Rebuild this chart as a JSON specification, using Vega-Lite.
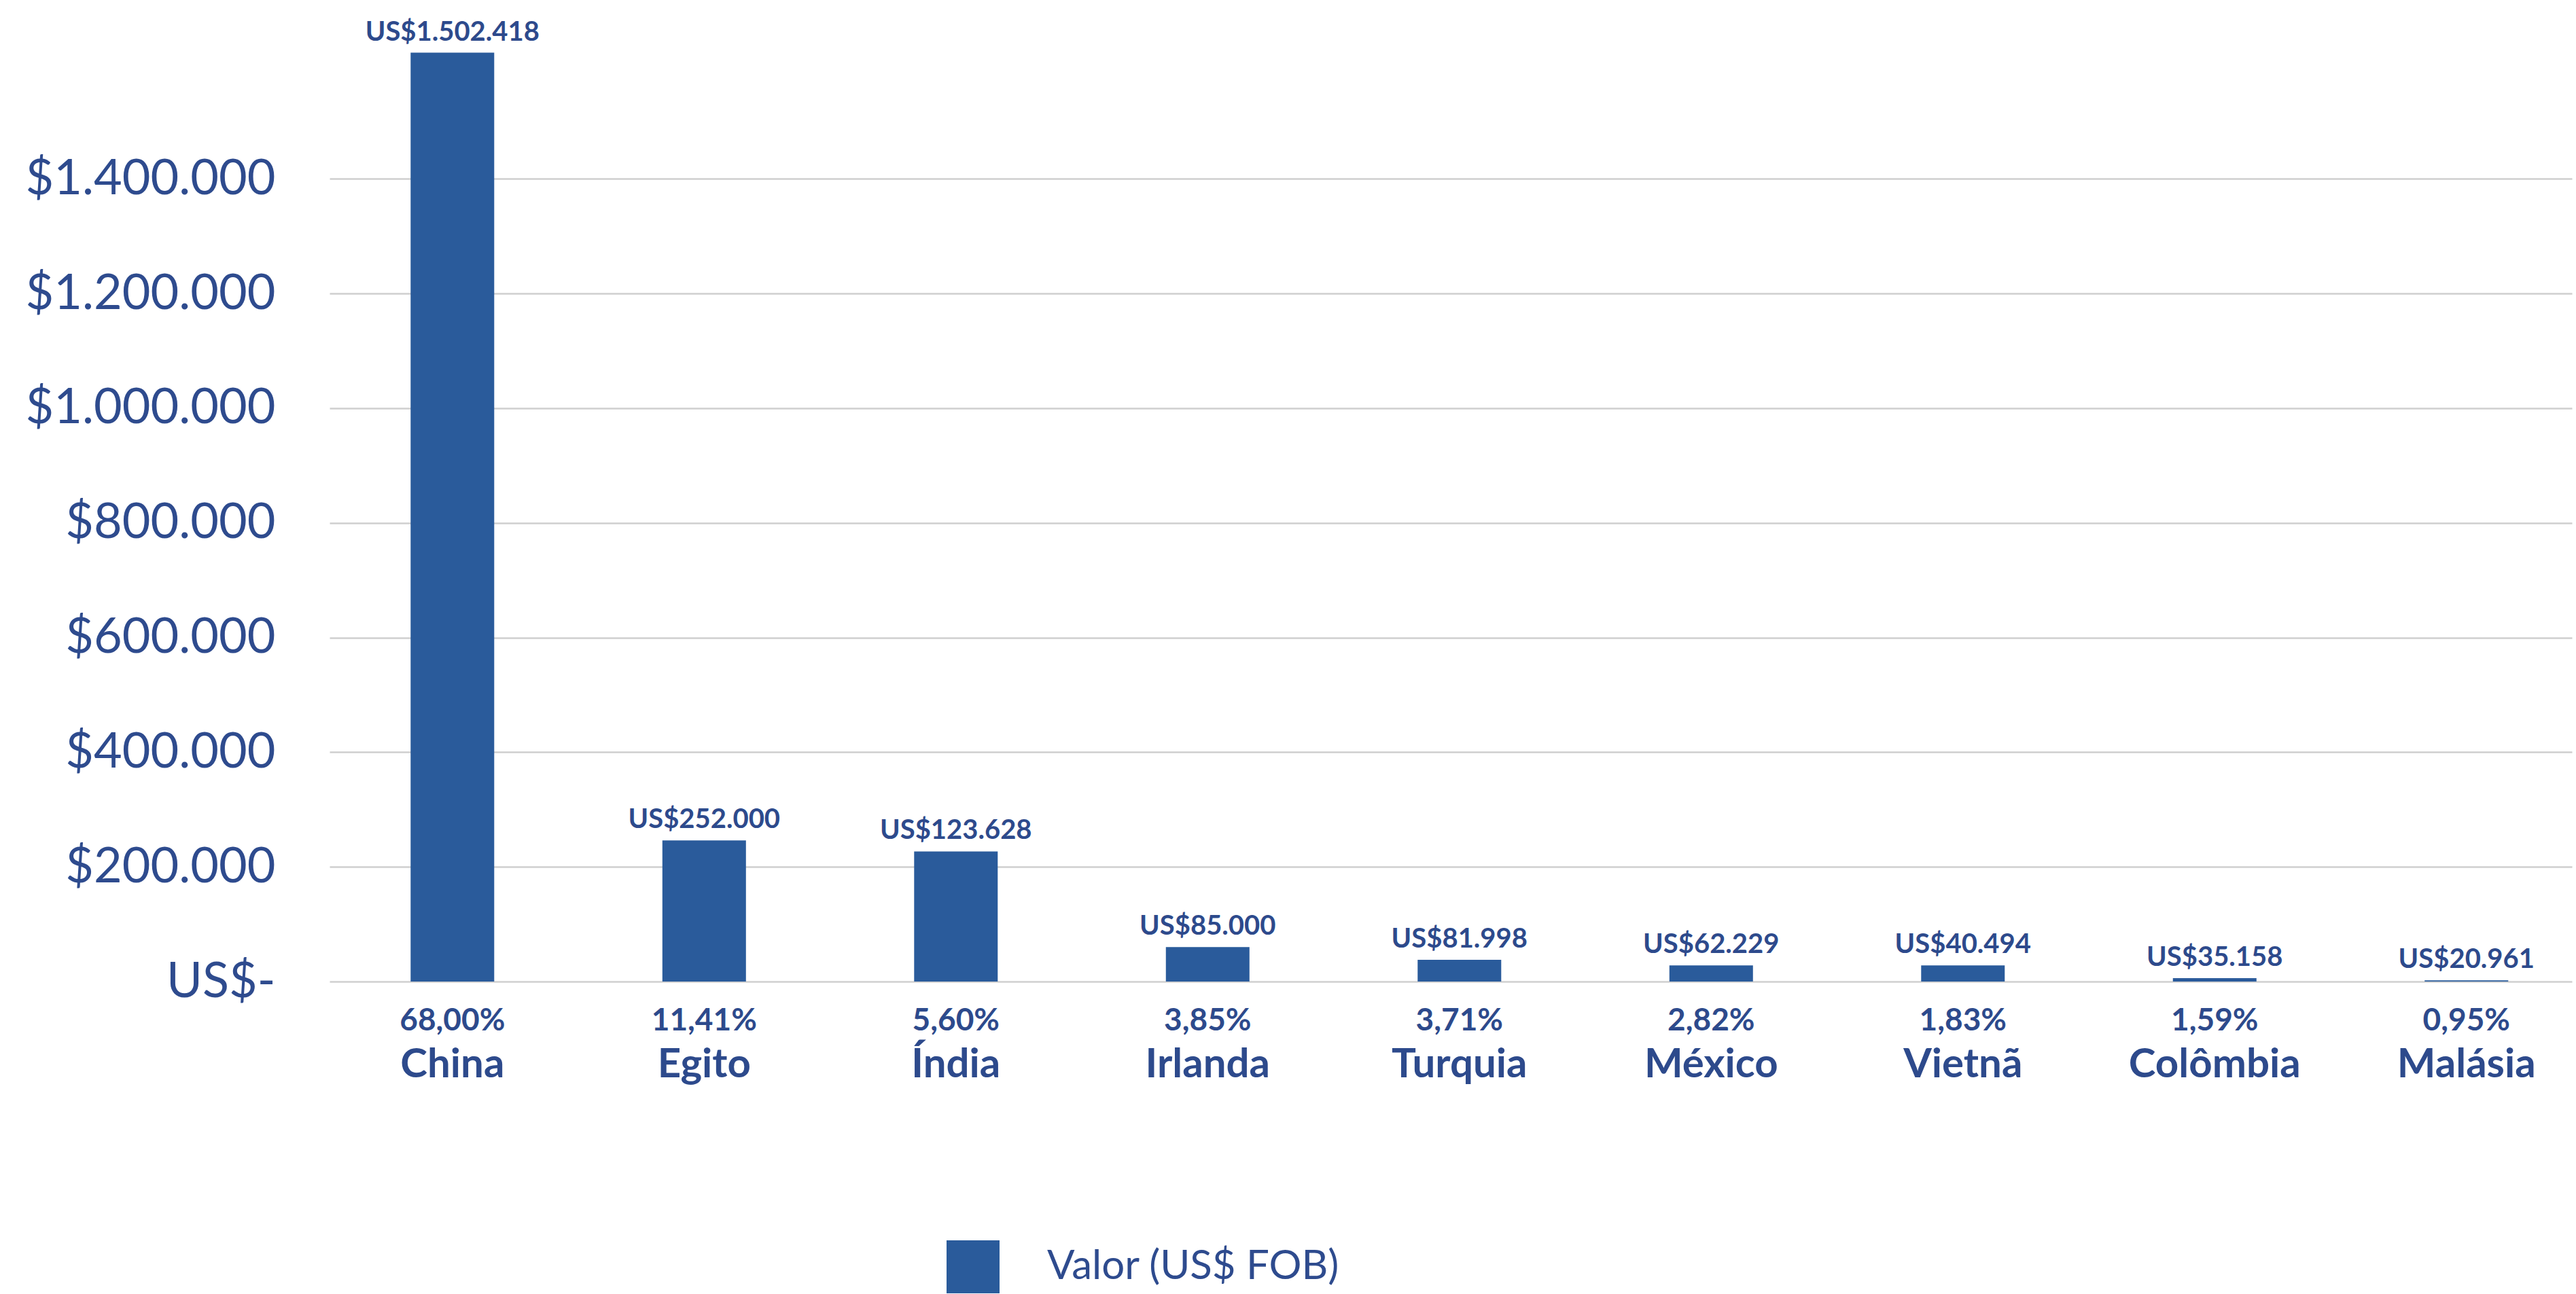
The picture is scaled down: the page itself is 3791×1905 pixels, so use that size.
{
  "$schema": "https://vega.github.io/schema/vega-lite/v6.json",
  "width": 3300,
  "height": 1435,
  "autosize": {"type": "none"},
  "padding": {"left": 485, "top": 10, "right": 6, "bottom": 460},
  "background": "white",
  "config": {
    "locale": {
      "number": {"decimal": ",", "thousands": ".", "grouping": [3], "currency": ["US$", ""]}
    },
    "view": {"stroke": null},
    "font": "Lato"
  },
  "data": {
    "values": [
      {"pais": "China", "altura": 1620000, "valor": 1502418, "pct": 0.68},
      {"pais": "Egito", "altura": 246000, "valor": 252000, "pct": 0.1141},
      {"pais": "Índia", "altura": 227000, "valor": 123628, "pct": 0.056},
      {"pais": "Irlanda", "altura": 60000, "valor": 85000, "pct": 0.0385},
      {"pais": "Turquia", "altura": 38000, "valor": 81998, "pct": 0.0371},
      {"pais": "México", "altura": 28000, "valor": 62229, "pct": 0.0282},
      {"pais": "Vietnã", "altura": 28000, "valor": 40494, "pct": 0.0183},
      {"pais": "Colômbia", "altura": 6000, "valor": 35158, "pct": 0.0159},
      {"pais": "Malásia", "altura": 2000, "valor": 20961, "pct": 0.0095}
    ]
  },
  "encoding": {
    "x": {
      "field": "pais",
      "type": "nominal",
      "sort": null,
      "scale": {"paddingInner": 0.668, "paddingOuter": 0.2875, "align": 0.56},
      "axis": {
        "title": null,
        "domain": false,
        "ticks": false,
        "tickSize": 0,
        "labelAngle": 0,
        "labelPadding": 93,
        "labelFont": "Lato",
        "labelFontSize": 60,
        "labelFontWeight": "bold",
        "labelColor": "#2D4A8C",
        "labelLimit": 1000,
        "labelOverlap": false,
        "grid": false
      }
    }
  },
  "layer": [
    {
      "mark": {"type": "bar", "color": "#2A5B9B"},
      "encoding": {
        "y": {
          "field": "altura",
          "type": "quantitative",
          "scale": {"domain": [0, 1700000], "nice": false},
          "axis": {
            "title": null,
            "values": [0, 200000, 400000, 600000, 800000, 1000000, 1200000, 1400000],
            "labelExpr": "datum.value == 0 ? 'US$-' : '$' + format(datum.value, ',.0f')",
            "domain": false,
            "ticks": false,
            "tickSize": 0,
            "labelPadding": 80,
            "labelFont": "Lato",
            "labelFontSize": 72,
            "labelColor": "#2E4B8E",
            "labelLimit": 1000,
            "labelOverlap": false,
            "grid": true,
            "gridColor": "#CFCFCF",
            "gridWidth": 2.5
          }
        },
        "color": {
          "datum": "Valor (US$ FOB)",
          "type": "nominal",
          "scale": {"range": ["#2A5B9B"]},
          "legend": {
            "title": null,
            "orient": "none",
            "legendX": 908,
            "legendY": 1816,
            "padding": 0,
            "symbolType": "square",
            "symbolSize": 6084,
            "symbolStrokeWidth": 0,
            "symbolOpacity": 1,
            "labelFont": "Lato",
            "labelFontSize": 60,
            "labelColor": "#2E4B8E",
            "labelOffset": 70,
            "labelLimit": 1000
          }
        }
      }
    },
    {
      "mark": {
        "type": "text",
        "baseline": "alphabetic",
        "align": "center",
        "dy": -18,
        "font": "Lato",
        "fontSize": 40,
        "fontWeight": "bold",
        "color": "#2D4A8C"
      },
      "encoding": {
        "y": {"field": "altura", "type": "quantitative"},
        "text": {"field": "valor", "type": "quantitative", "format": "$,.0f"}
      }
    },
    {
      "mark": {
        "type": "text",
        "baseline": "alphabetic",
        "align": "center",
        "dy": 72,
        "font": "Lato",
        "fontSize": 46,
        "fontWeight": "bold",
        "color": "#2D4A8C"
      },
      "encoding": {
        "y": {"datum": 0, "type": "quantitative"},
        "text": {"field": "pct", "type": "quantitative", "format": ".2%"}
      }
    }
  ]
}
